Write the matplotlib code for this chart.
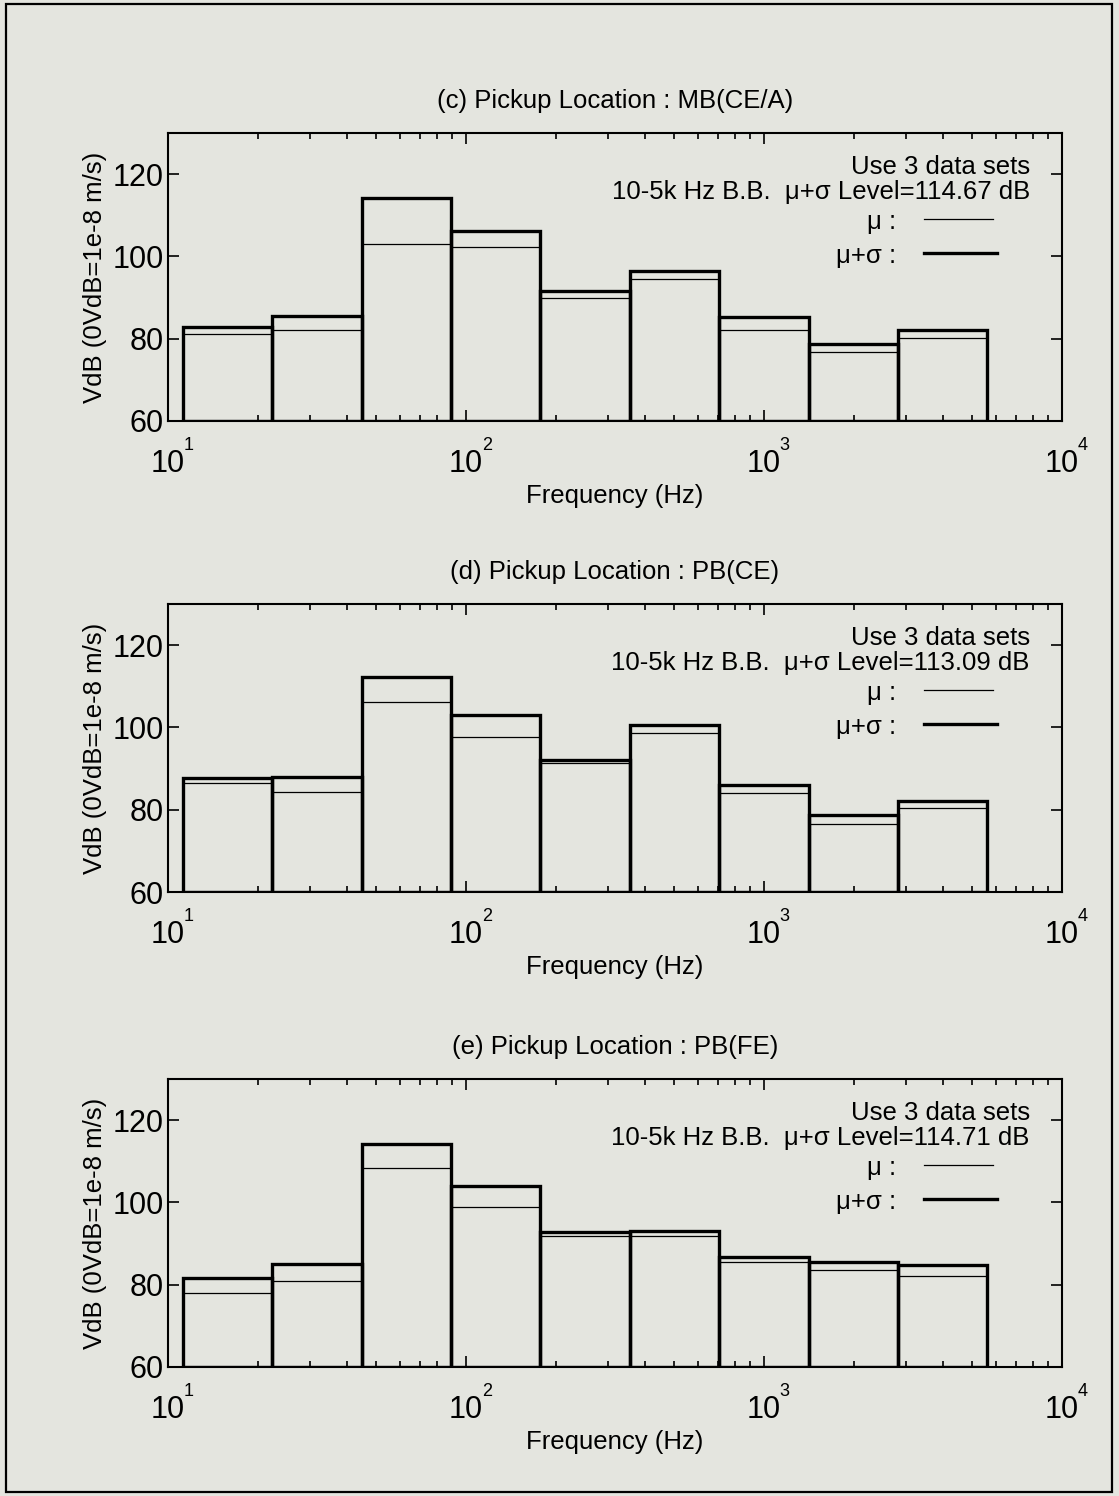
import matplotlib.pyplot as plt
import numpy as np
from matplotlib.patches import Rectangle
from matplotlib.ticker import LogLocator, FixedLocator, NullFormatter, FixedFormatter

plt.rcParams['font.family'] = ['Liberation Sans', 'DejaVu Sans']

# octave band edges (Hz), base-10 octaves 16 Hz .. 4 kHz
band_edges = [11.22, 22.39, 44.67, 89.13, 177.8, 354.8, 707.9, 1413, 2818, 5623]

titles = ["(c) Pickup Location : MB(CE/A)",
          "(d) Pickup Location : PB(CE)",
          "(e) Pickup Location : PB(FE)"]
levels = ["114.67", "113.09", "114.71"]

# mu + sigma (thick) and mu (thin) band levels, VdB
c_musig = [82.8, 85.4, 114.2, 106.2, 91.6, 96.5, 85.2, 78.8, 82.0]
c_mu    = [81.2, 82.0, 103.0, 102.3, 90.0, 94.5, 82.0, 76.8, 80.2]
d_musig = [87.6, 87.9, 112.3, 103.0, 92.1, 100.6, 86.1, 78.8, 82.1]
d_mu    = [86.6, 84.2, 106.3, 97.7, 91.3, 98.6, 84.0, 76.5, 80.3]
e_musig = [81.7, 85.0, 114.2, 104.0, 92.8, 93.0, 86.8, 85.6, 84.8]
e_mu    = [78.1, 81.0, 108.4, 99.0, 91.9, 91.8, 85.6, 83.5, 82.0]

musig_all = [c_musig, d_musig, e_musig]
mu_all = [c_mu, d_mu, e_mu]

xticks = [10, 100, 1000, 10000]
xexps = ["1", "2", "3", "4"]

bg = '#e4e5df'
W, H = 1119, 1496
fig = plt.figure(figsize=(W / 100, H / 100), dpi=100, facecolor=bg)

# outer frame
fig.patches.append(Rectangle((6 / W, 4 / H), 1106 / W, 1488 / H, transform=fig.transFigure,
                             fill=False, edgecolor='black', linewidth=1.6))

lo = np.array(band_edges[:-1])
hi = np.array(band_edges[1:])

ax_tops = [133, 604, 1079]
ax_h = 288
ax_left, ax_right = 168, 1062

for i in range(3):
    top = ax_tops[i]
    ax = fig.add_axes([ax_left / W, 1 - (top + ax_h) / H, (ax_right - ax_left) / W, ax_h / H])
    ax.set_facecolor(bg)
    ax.set_xscale('log')
    ax.bar(lo, np.array(musig_all[i]) - 60, width=hi - lo, bottom=60, align='edge',
           fill=False, edgecolor='black', linewidth=2.4)
    ax.bar(lo, np.array(mu_all[i]) - 60, width=hi - lo, bottom=60, align='edge',
           fill=False, edgecolor='black', linewidth=0.9)
    ax.set_xlim(10, 1e4)
    ax.set_ylim(60, 130)
    ax.yaxis.set_major_locator(FixedLocator([60, 80, 100, 120]))
    ax.xaxis.set_major_locator(FixedLocator(xticks))
    ax.xaxis.set_major_formatter(FixedFormatter(["10"] * len(xticks)))
    ax.xaxis.set_minor_locator(LogLocator(base=10, subs=np.arange(2, 10), numticks=20))
    ax.xaxis.set_minor_formatter(NullFormatter())
    ax.tick_params(which='both', direction='in', top=True, right=True, width=1.2)
    ax.tick_params(which='major', length=8, labelsize=22)
    ax.tick_params(axis='x', which='major', pad=20)
    ax.tick_params(axis='y', which='major', pad=3)
    ax.tick_params(which='minor', length=4)
    for s in ax.spines.values():
        s.set_linewidth(1.5)
    # exponents of the decade labels
    for xt, ex in zip(xticks, xexps):
        ax.annotate(ex, xy=(xt, 0), xycoords=ax.get_xaxis_transform(),
                    xytext=(15, -17.5), textcoords='offset points',
                    ha='center', va='center', fontsize=13, annotation_clip=False)
    ax.set_xlabel("Frequency (Hz)", fontsize=18.5, labelpad=4)
    ax.set_ylabel("VdB (0VdB=1e-8 m/s)", fontsize=18.5, labelpad=4)
    ax.set_title(titles[i], fontsize=18.5, pad=18)

    ax.text(0.964, 0.889, "Use 3 data sets", transform=ax.transAxes,
            ha='right', va='center_baseline', fontsize=18.5)
    ax.text(0.964, 0.805, "10-5k Hz B.B.  \u03bc+\u03c3 Level=" + levels[i] + " dB",
            transform=ax.transAxes, ha='right', va='center_baseline', fontsize=18.5)
    ax.text(0.815, 0.70, "\u03bc :", transform=ax.transAxes, ha='right',
            va='center_baseline', fontsize=18.5)
    ax.text(0.815, 0.582, "\u03bc+\u03c3 :", transform=ax.transAxes, ha='right',
            va='center_baseline', fontsize=18.5)
    ax.plot([0.846, 0.923], [0.70, 0.70], transform=ax.transAxes, color='black', linewidth=0.9)
    ax.plot([0.846, 0.927], [0.582, 0.582], transform=ax.transAxes, color='black', linewidth=2.4)

fig.savefig("out.png", dpi=100, facecolor=bg)
